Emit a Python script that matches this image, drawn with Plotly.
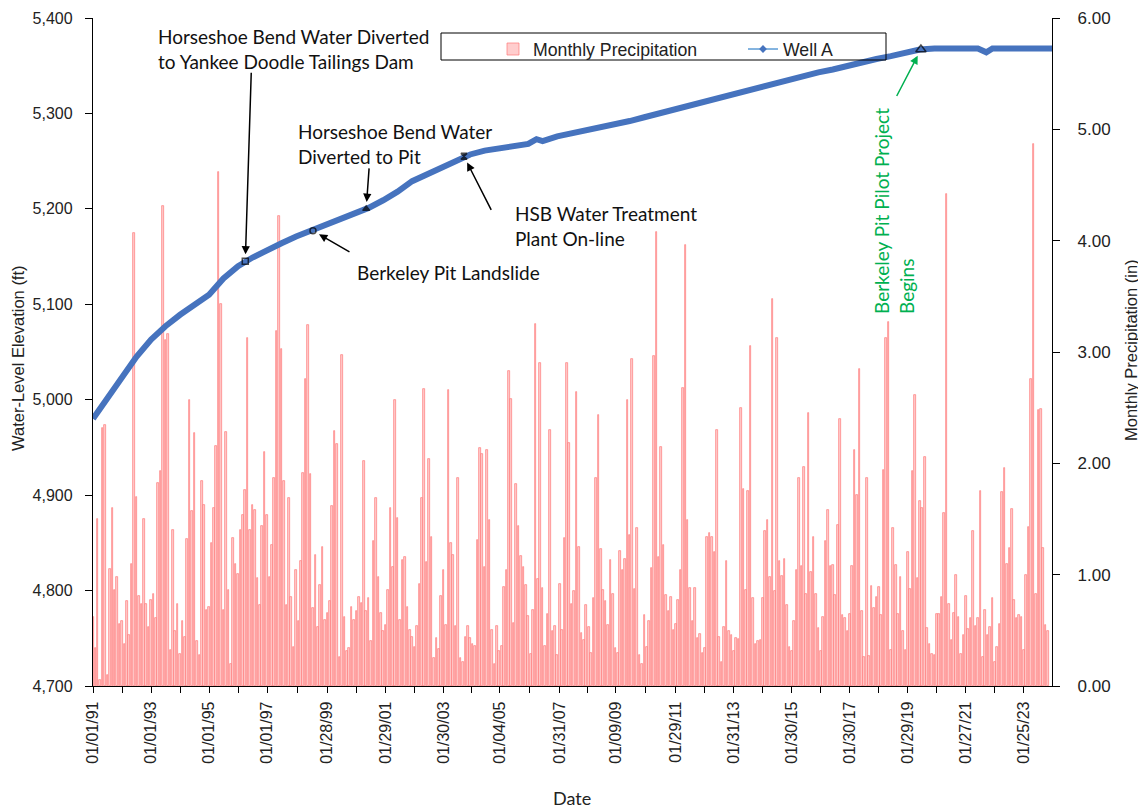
import pandas as pd
import plotly.graph_objects as go

# ---------------- data ----------------
precip_start = "1991-01-01"
precip_in = [
    0.62, 0.34, 1.50, 0.05, 2.32, 2.34, 0.10, 1.05, 1.60, 0.86,
    0.98, 0.56, 0.58, 0.38, 0.76, 0.46, 1.10, 4.07, 1.70, 0.81,
    0.74, 1.50, 0.74, 0.53, 0.77, 0.83, 0.61, 1.82, 1.93, 4.31,
    3.11, 3.16, 0.32, 1.40, 0.49, 0.74, 0.29, 0.58, 0.44, 1.32,
    2.57, 1.57, 2.27, 0.40, 0.28, 1.84, 1.63, 0.68, 0.71, 1.28,
    1.60, 2.16, 4.62, 3.43, 0.68, 2.28, 0.86, 0.20, 1.33, 1.10,
    1.01, 1.40, 1.54, 1.76, 3.13,
    1.40, 1.63, 1.58, 0.97, 0.73, 1.44, 2.10, 1.54, 0.98, 1.27,
    1.87, 3.19, 4.22, 3.03, 1.84, 0.73, 1.69, 0.80, 0.35, 1.04,
    0.58, 1.12, 1.91, 2.76, 3.24, 1.90, 0.70, 1.18, 0.53, 0.91,
    1.25, 0.59, 0.66, 0.76, 1.62, 2.29, 2.17, 0.26, 2.97, 0.62,
    0.31, 0.34, 0.71, 0.59, 0.67, 0.80, 0.75, 2.02, 0.67, 0.79,
    0.40, 1.30, 1.69, 0.98, 0.66, 0.49, 0.55, 0.86, 1.60, 1.07,
    2.57, 1.51, 0.59, 1.13, 1.16, 0.71,
    0.50, 0.44, 0.35, 0.54, 0.92, 1.69, 2.67, 1.11, 2.04,
    1.34, 0.25, 0.43, 0.33, 0.81, 1.04, 0.55, 2.66, 1.28, 1.18,
    0.54, 1.87, 0.25, 0.22, 0.44, 0.54, 0.43, 0.38, 0.36, 1.31,
    2.14, 2.08, 1.07, 2.12, 1.49, 0.50, 0.20, 0.54, 0.31, 0.36,
    0.89, 1.04, 2.83, 2.58, 0.57, 1.81, 1.44, 1.17, 1.07, 0.91,
    0.63, 0.29, 0.68, 3.25, 0.96, 2.90, 0.88, 0.36, 0.65, 2.30,
    0.49, 0.54, 0.28, 0.92, 0.50, 1.33, 2.90, 2.18,
    0.74, 0.85, 2.64, 1.25, 0.48, 0.41, 0.73, 0.53, 0.30, 0.79,
    1.87, 2.43, 1.23, 0.86, 0.76, 0.55, 1.13, 0.83, 0.34, 0.30,
    1.21, 1.04, 1.14, 2.57, 1.36, 2.94, 0.87, 1.42, 0.28, 0.20,
    0.64, 0.35, 0.58, 1.06, 2.96, 4.08, 1.16, 2.15, 1.27, 0.82,
    0.67, 0.80, 0.50, 0.56, 0.77, 1.04, 2.68, 3.96, 1.49, 0.88,
    0.58, 0.88, 0.43, 0.47, 0.30, 0.34, 1.34, 1.37, 1.34, 1.20,
    2.30, 0.44, 0.22, 0.53, 1.12, 0.49,
    0.46, 0.31, 0.43, 0.42, 2.50, 1.77, 0.86, 1.75, 3.05, 0.79,
    0.38, 0.40, 0.41, 0.79, 1.39, 1.49, 0.98, 3.48, 0.85, 3.13,
    1.12, 0.99, 1.14, 0.73, 0.35, 0.31, 0.58, 1.04, 1.87, 1.08,
    1.97, 0.83, 2.45, 1.02, 1.34, 0.83, 0.52, 0.31, 0.62, 1.30,
    1.58, 1.08, 1.09, 0.82, 1.45, 2.40, 0.64, 0.61, 0.49, 0.65,
    1.08, 2.12, 1.72, 2.85, 0.67, 0.26, 1.87, 0.27, 0.90, 0.70,
    0.80, 0.89, 0.64, 1.94, 3.13, 3.27,
    0.32, 1.42, 1.09, 0.65, 0.98, 0.49, 0.32, 1.20, 0.87, 1.93,
    2.61, 0.97, 1.66, 1.60, 2.06, 0.52, 0.38, 0.29, 0.28, 0.65,
    0.65, 0.80, 1.55, 4.42, 0.74, 0.41, 0.66, 1.00, 0.62, 0.29,
    0.46, 0.81, 0.51, 0.61, 1.39, 0.54, 0.61, 1.75, 0.26, 0.68,
    0.46, 0.53, 0.79, 0.22, 0.35, 0.56, 1.74, 1.96, 1.10, 1.24,
    1.59, 0.77, 0.61, 0.64, 0.62, 0.32, 1.00, 1.43, 2.76, 4.87,
    0.83, 2.48, 2.49, 1.24, 0.55, 0.49,
]

well_dates = [
    "1991-01-01", "1991-07-01", "1992-01-01", "1992-07-01", "1993-01-01", "1993-07-01",
    "1994-01-01", "1994-07-01", "1995-01-01", "1995-07-01", "1996-01-01", "1996-07-01",
    "1997-01-01", "1997-07-01", "1998-01-01", "1998-07-01", "1999-01-01", "1999-07-01",
    "2000-01-01", "2000-07-01", "2001-01-01", "2001-07-01", "2002-01-01", "2002-07-01",
    "2003-01-01", "2003-07-01", "2004-01-01", "2004-07-01", "2005-01-01", "2005-07-01",
    "2006-01-01", "2006-04-15", "2006-07-01", "2007-01-01", "2007-07-01", "2008-01-01",
    "2008-07-01", "2009-01-01", "2009-07-01", "2010-01-01", "2010-07-01", "2011-01-01",
    "2011-07-01", "2012-01-01", "2012-07-01", "2013-01-01", "2013-07-01", "2014-01-01",
    "2014-07-01", "2015-01-01", "2015-07-01", "2016-01-01", "2016-07-01", "2017-01-01",
    "2017-07-01", "2018-01-01", "2018-07-01", "2019-01-01", "2019-07-01", "2020-01-01",
    "2020-07-01", "2021-01-01", "2021-07-01", "2021-10-15", "2022-01-01", "2022-07-01",
    "2023-01-01", "2023-07-01", "2024-01-20",
]
well_elev = [
    4980, 5001, 5022, 5045, 5063, 5077,
    5089, 5100, 5110, 5127, 5140, 5149,
    5157, 5164, 5171, 5177, 5183, 5190,
    5196, 5201, 5209, 5218, 5229, 5236,
    5243, 5250, 5257, 5261, 5263, 5265,
    5268, 5273, 5271, 5276, 5279, 5283,
    5286, 5289, 5292, 5296, 5300, 5304,
    5308, 5312, 5316, 5320, 5324, 5328,
    5331, 5335, 5339, 5343, 5346, 5350,
    5353, 5357, 5360, 5364, 5367, 5368,
    5368, 5368, 5368, 5364, 5368, 5368,
    5368, 5368, 5368,
]

event_names = [
    "Horseshoe Bend Water Diverted to Yankee Doodle Tailings Dam",
    "Berkeley Pit Landslide",
    "Horseshoe Bend Water Diverted to Pit",
    "HSB Water Treatment Plant On-line",
    "Berkeley Pit Pilot Project Begins",
]
event_dates = ["1996-04-01", "1998-08-01", "2000-06-01", "2003-10-15", "2019-07-15"]
event_elev = [5145, 5177, 5200, 5255, 5367]

tick_labels = [
    "01/01/91", "01/01/93", "01/01/95", "01/01/97", "01/28/99", "01/29/01",
    "01/30/03", "01/04/05", "01/31/07", "01/09/09", "01/29/11", "01/31/13",
    "01/30/15", "01/30/17", "01/29/19", "01/27/21", "01/25/23",
]

# ---------------- figure ----------------
# page has an 8px body margin: figure is drawn from page (8, 8)
OFF = 8
W, H = 1146 - OFF, 810 - OFF
L, R, T, B = 93, 1052, 18, 686  # page coordinates of plot area


def px(x):
    return (x - L) / (R - L)


def py(y):
    return 1 - (y - T) / (B - T)


precip_dates = pd.date_range(precip_start, periods=len(precip_in), freq="MS")
tick_dates = pd.to_datetime(tick_labels, format="%m/%d/%y")
minor = [tick_dates[i] + (tick_dates[i + 1] - tick_dates[i]) / 2 for i in range(len(tick_dates) - 1)]
minor.append(tick_dates[-1] + (tick_dates[-1] - tick_dates[-2]) / 2)

BLUE = "#4673BE"
FONT = "Arial, Liberation Sans, sans-serif"
CAL = "Lato, Carlito, sans-serif"

fig = go.Figure()
fig.add_trace(go.Bar(
    x=precip_dates, y=precip_in, name="Monthly Precipitation",
    marker=dict(color="rgba(255,205,205,1)", line=dict(color="rgb(255,120,120)", width=0.7)),
    width=20 * 86400000, yaxis="y", showlegend=True,
))
fig.add_trace(go.Scatter(
    x=well_dates, y=well_elev, name="Well A", mode="lines",
    line=dict(color=BLUE, width=6), yaxis="y2", showlegend=False,
))
# legend entry for the well (thin line with diamond marker)
fig.add_trace(go.Scatter(
    x=[None], y=[None], name="Well A", mode="lines+markers",
    line=dict(color="#5B9BD5", width=1.5), marker=dict(symbol="diamond", size=6, color="#4673BE"),
    yaxis="y2", showlegend=True,
))
fig.add_trace(go.Scatter(
    x=event_dates, y=event_elev, mode="markers", yaxis="y2", showlegend=False,
    text=event_names, hoverinfo="text",
    marker=dict(
        symbol=["square-open", "circle-open", "triangle-up", "hourglass", "triangle-up-open"],
        size=[6, 6, 6, 6, 9], color="black", line=dict(color="black", width=1.5),
    ),
))

fig.update_layout(
    width=W, height=H,
    margin=dict(l=L - OFF, r=W - (R - OFF), t=T - OFF, b=H - (B - OFF), autoexpand=False),
    paper_bgcolor="white", plot_bgcolor="white",
    bargap=0,
    showlegend=True,
    legend=dict(
        orientation="h", x=px(493), y=py(31), xanchor="left", yanchor="top",
        font=dict(family=FONT, size=17.7, color="#222"), bgcolor="rgba(0,0,0,0)",
        entrywidth=205, entrywidthmode="pixels",
    ),
    xaxis=dict(
        type="date", range=["1991-01-01", "2024-01-20"],
        tickmode="array", tickvals=list(tick_dates), ticktext=tick_labels,
        tickangle=-90, ticks="outside", ticklen=6, tickcolor="black", ticklabelstandoff=2,
        showline=True, linecolor="black", linewidth=1.3, showgrid=False, zeroline=False,
        tickfont=dict(family=FONT, size=16, color="#222"),
        minor=dict(tickmode="array", tickvals=minor, ticks="outside", ticklen=6, tickcolor="black", showgrid=False),
        automargin=False,
    ),
    yaxis=dict(
        side="right", range=[0, 6], dtick=1, tickformat=".2f",
        ticks="outside", ticklen=7, tickcolor="black", ticklabelstandoff=14,
        showline=True, linecolor="black", linewidth=1.3, showgrid=False, zeroline=False,
        tickfont=dict(family=FONT, size=17, color="#222"),
        automargin=False,
    ),
    yaxis2=dict(
        overlaying="y", side="left", range=[4700, 5400], dtick=100, tickformat=",",
        ticks="outside", ticklen=7, tickcolor="black", ticklabelstandoff=9,
        showline=True, linecolor="black", linewidth=1.3, showgrid=False, zeroline=False,
        tickfont=dict(family=FONT, size=16, color="#222"),
        automargin=False,
    ),
    shapes=[dict(type="rect", xref="paper", yref="paper", x0=px(441), x1=px(886), y0=py(33), y1=py(60),
                 line=dict(color="black", width=1), fillcolor="rgba(0,0,0,0)", layer="above")],
)

# axis titles
fig.add_annotation(text="Water-Level Elevation (ft)", x=px(18), y=py(358), xref="paper", yref="paper",
                   showarrow=False, textangle=-90, xanchor="center", yanchor="middle",
                   font=dict(family=FONT, size=16.5, color="#222"))
fig.add_annotation(text="Monthly Precipitation (in)", x=px(1131), y=py(350), xref="paper", yref="paper",
                   showarrow=False, textangle=-90, xanchor="center", yanchor="middle",
                   font=dict(family=FONT, size=16.5, color="#222"))
fig.add_annotation(text="Date", x=px(572), y=py(798), xref="paper", yref="paper",
                   showarrow=False, xanchor="center", yanchor="middle",
                   font=dict(family=CAL, size=18, color="#222"))

ann_font = dict(family=CAL, size=19, color="#111")
# event arrows
arrows = [
    (0, 6, -190, "black"),
    (1, 38, 22, "black"),
    (2, 3, -42, "black"),
    (3, 28, 55, "black"),
    (4, -25, 48, "#00B050"),
]
for idx, ax, ay, col in arrows:
    fig.add_annotation(
        x=event_dates[idx], y=event_elev[idx], xref="x", yref="y2", text="",
        showarrow=True, ax=ax, ay=ay, axref="pixel", ayref="pixel",
        arrowhead=2, arrowsize=1.1, arrowwidth=1.5, arrowcolor=col, standoff=7,
    )

texts = [
    ("Horseshoe Bend Water Diverted<br>to Yankee Doodle Tailings Dam", 156, 49),
    ("Horseshoe Bend Water<br>Diverted to Pit", 296, 144),
    ("Berkeley Pit Landslide", 355, 272),
    ("HSB Water Treatment<br>Plant On-line", 513, 226),
]
for t, x, y in texts:
    fig.add_annotation(
        text=t, x=px(x), y=py(y), xref="paper", yref="paper", showarrow=False,
        xanchor="left", yanchor="middle", align="left", font=ann_font,
    )
fig.add_annotation(
    text="Berkeley Pit Pilot Project<br>Begins", x=px(894), y=py(211), xref="paper", yref="paper",
    showarrow=False, textangle=-90, align="left", xanchor="center", yanchor="middle",
    font=dict(family=CAL, size=19, color="#00B050"),
)

fig.write_html("out.html")
